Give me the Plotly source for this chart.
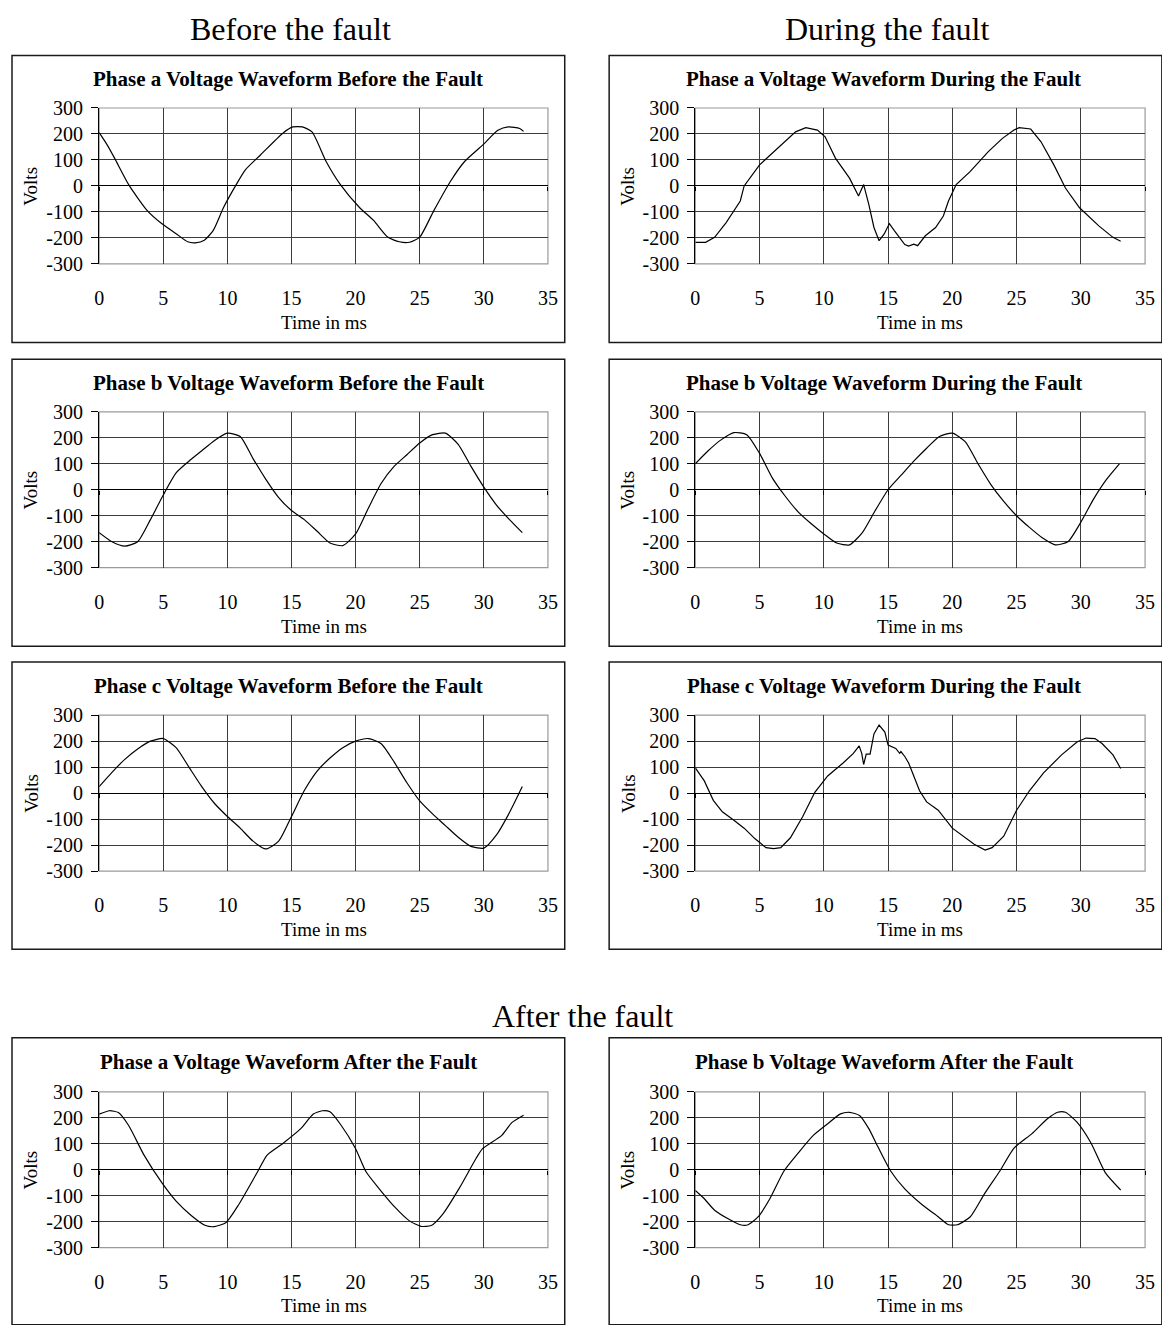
import plotly.graph_objects as go

# The page body has an 8px margin, so the figure is sized to fill the
# 1170x1333 window exactly and every position below is given in window pixels.
WIN_W, WIN_H, BODY = 1170, 1333, 8
W, H = WIN_W - 2 * BODY, WIN_H - 2 * BODY
FONT = "Liberation Serif"

# ---------------- text ----------------
section_titles = ["Before the fault", "During the fault", "After the fault"]
panel_titles = [
    "Phase a Voltage Waveform Before the Fault",
    "Phase a Voltage Waveform During the Fault",
    "Phase b Voltage Waveform Before the Fault",
    "Phase b Voltage Waveform During the Fault",
    "Phase c Voltage Waveform Before the Fault",
    "Phase c Voltage Waveform During the Fault",
    "Phase a Voltage Waveform After the Fault",
    "Phase b Voltage Waveform After the Fault",
]
x_title = "Time in ms"
y_title = "Volts"
x_ticks = [0, 5, 10, 15, 20, 25, 30, 35]
x_grid = [5, 10, 15, 20, 25, 30]
y_ticks = [-300, -200, -100, 0, 100, 200, 300]
y_tick_labels = ["-300", "-200", "-100", "0", "100", "200", "300"]
y_grid = [-200, -100, 100, 200]

# ---------------- data (time in ms, volts) ----------------
t_a_before = [0, 0.6, 1.2, 2.3, 3.75, 4.9, 6.0, 6.9, 7.5, 8.2, 8.9, 9.7, 10.7, 11.4, 12.6,
              14.3, 15.1, 15.85, 16.6, 17.7, 18.8, 20.3, 21.4, 22.5, 23.4, 24.2, 25.0,
              26.1, 27.4, 28.5, 29.9, 31.1, 31.9, 32.8, 33.1]
v_a_before = [205, 160, 107, 5, -95, -146, -184, -215, -219, -209, -171, -83, 6, 62, 120,
              202, 227, 227, 208, 94, 6, -83, -133, -197, -215, -217, -197,
              -95, 18, 94, 157, 214, 227, 221, 210]

t_b_before = [0, 1, 2, 3, 4, 5, 6, 7, 8, 9, 10, 11, 12, 13, 14, 15, 16, 17, 18, 19, 20,
              21, 22, 23, 24, 25, 26, 27, 28, 29, 30, 31, 32, 33]
v_b_before = [-165, -200, -217, -200, -115, -20, 65, 110, 150, 190, 218, 205, 120, 40,
              -30, -80, -115, -160, -205, -215, -170, -70, 25, 90, 135, 180, 212, 218,
              175, 90, 10, -60, -115, -165]

t_c_before = [0, 1, 2, 3, 4, 5, 6, 7, 8, 9, 10, 11, 12, 13, 14, 15, 16, 17, 18, 19, 20,
              21, 22, 23, 24, 25, 26, 27, 28, 29, 30, 31, 32, 33]
v_c_before = [25, 80, 130, 170, 200, 210, 175, 100, 25, -40, -90, -135, -185, -215, -185,
              -90, 10, 85, 135, 175, 200, 210, 190, 120, 40, -30, -80, -125, -170, -205,
              -212, -160, -75, 25]

t_a_during = [0, 0.8, 1.5, 2.4, 3.5, 3.8, 5.0, 6.4, 7.8, 8.6, 9.5, 10.1, 10.9, 12.0, 12.7,
              13.1, 13.5, 13.9, 14.3, 14.7, 15.1, 15.5, 16.3, 16.6, 17.0, 17.3, 17.9,
              18.7, 19.3, 19.7, 20.3, 21.4, 22.8, 23.9, 24.8, 25.2, 26.1, 26.9, 27.9,
              28.8, 29.9, 31.4, 32.5, 33.1]
v_a_during = [-217, -217, -198, -141, -58, 0, 81, 145, 208, 224, 215, 189, 107, 30, -39,
              5, -71, -160, -211, -185, -145, -173, -226, -232, -224, -230, -192,
              -160, -116, -58, 5, 56, 132, 183, 215, 224, 219, 170, 81,
              -8, -84, -154, -198, -213]

t_b_during = [0, 1, 2, 3, 4, 5, 6, 7, 8, 9, 10, 11, 12, 13, 14, 15, 16, 17, 18, 19, 20,
              21, 22, 23, 24, 25, 26, 27, 28, 29, 30, 31, 32, 33]
v_b_during = [100, 150, 192, 220, 212, 140, 45, -25, -85, -130, -170, -205, -212, -165,
              -80, 0, 55, 110, 160, 205, 218, 185, 100, 20, -45, -100, -145, -185, -212,
              -200, -125, -35, 40, 100]

t_c_during = [0, 0.7, 1.4, 2.1, 2.95, 3.8, 4.65, 5.5, 6.1, 6.65, 7.4, 8.35, 9.3, 10.3,
              11.5, 12.3, 12.75, 12.95, 13.1, 13.3, 13.6, 13.9, 14.3, 14.75, 15.0, 15.3,
              15.6, 15.9, 16.0, 16.3, 16.6, 16.9, 17.45, 18.0, 18.9, 20.0, 20.85, 21.7,
              22.55, 23.1, 24.0, 25.0, 26.0, 27.1, 28.5, 29.7, 30.4, 31.1, 31.65, 32.5, 33.1]
v_c_during = [97, 47, -28, -72, -103, -135, -176, -210, -214, -210, -172, -91, 3, 66,
              116, 153, 182, 153, 110, 150, 150, 228, 262, 235, 185, 178,
              172, 153, 160, 141, 116, 78, 9, -34, -66, -135, -166, -197,
              -219, -210, -166, -66, 9, 78, 147, 197, 212, 210, 191, 147, 95]

t_a_after = [0, 0.8, 1.5, 2.3, 3.5, 4.9, 6.0, 7.2, 8.3, 9.0, 9.9, 10.9, 12.3, 13.1, 14.3,
             15.7, 16.7, 17.4, 18.0, 18.8, 20.0, 20.8, 22.0, 23.1, 24.2, 25.1, 25.9,
             26.8, 28.1, 29.4, 29.9, 31.4, 32.2, 33.1]
v_a_after = [214, 227, 220, 170, 56, -51, -121, -177, -215, -219, -203, -133, -13, 56, 100,
             157, 214, 227, 223, 176, 81, -7, -83, -146, -197, -218, -215,
             -171, -70, 44, 81, 132, 182, 210]

t_b_after = [0, 0.7, 1.5, 2.7, 3.5, 4.1, 4.9, 5.8, 6.9, 8.1, 9.2, 10.3, 11.3, 12.0, 12.8,
             13.5, 14.2, 15.2, 16.3, 17.7, 18.9, 19.7, 20.4, 21.4, 22.5, 23.7, 24.8,
             26.2, 27.4, 28.2, 28.8, 29.7, 30.8, 31.9, 33.1]
v_b_after = [-80, -112, -156, -193, -212, -212, -181, -112, -5, 70, 133, 177, 215, 221, 208,
             158, 89, -5, -74, -137, -181, -212, -212, -181, -93, -5, 83,
             139, 196, 221, 221, 183, 102, -11, -78]

panel_t = [t_a_before, t_a_during, t_b_before, t_b_during, t_c_before, t_c_during, t_a_after, t_b_after]
panel_v = [v_a_before, v_a_during, v_b_before, v_b_during, v_c_before, v_c_during, v_a_after, v_b_after]
panel_smooth = [True, False, True, True, True, False, True, True]

# ---------------- geometry (window pixels) ----------------
box_tops = [45, 354, 662, 1044]
box_h = 292
plot_tops = [98.5, 407.5, 716, 1099]
plot_h = 158.5
box_x = [(7, 567), (612, 1172)]
plot_x = [(95.3, 550), (699.3, 1155)]


def px(x):
    return (x - BODY) / W


def py(y):
    return 1 - (y - BODY) / H


fig = go.Figure()
layout = dict(
    width=W, height=H, margin=dict(l=0, r=0, t=0, b=0),
    paper_bgcolor="white", plot_bgcolor="white", showlegend=False,
    font=dict(family=FONT, color="black"),
)
shapes, annotations = [], []
GRID = "#3c3c3c"

for i in range(8):
    row, col = i // 2, i % 2
    n = i + 1
    xa, ya = ("x", "y") if n == 1 else (f"x{n}", f"y{n}")
    xk, yk = ("xaxis", "yaxis") if n == 1 else (f"xaxis{n}", f"yaxis{n}")
    x0, x1 = plot_x[col]
    ytop = plot_tops[row]
    ybot = ytop + plot_h
    dom_x = [px(x0), px(x1)]
    dom_y = [py(ybot), py(ytop)]

    line = dict(color="black", width=1.2)
    if panel_smooth[i]:
        line.update(shape="spline", smoothing=0.6)
    fig.add_trace(go.Scatter(x=panel_t[i], y=panel_v[i], mode="lines", line=line,
                             xaxis=xa, yaxis=ya, hoverinfo="skip"))

    layout[xk] = dict(domain=dom_x, anchor=ya, range=[0, 35], tickvals=x_ticks,
                      showgrid=False, showline=False, ticks="", zeroline=False,
                      minor=dict(tickvals=x_grid, showgrid=True, gridcolor=GRID,
                                 gridwidth=1, ticks=""),
                      tickfont=dict(size=20, family=FONT),
                      ticklabelstandoff=20, fixedrange=True)
    layout[yk] = dict(domain=dom_y, anchor=xa, range=[-300, 300], tickvals=y_ticks,
                      ticktext=y_tick_labels, showgrid=False,
                      minor=dict(tickvals=y_grid, showgrid=True, gridcolor=GRID,
                                 gridwidth=1, ticks=""),
                      showline=True, linecolor="black", linewidth=1.3, ticks="outside",
                      ticklen=7, tickcolor="black", zeroline=True, zerolinecolor="black",
                      zerolinewidth=1.2, tickfont=dict(size=20, family=FONT),
                      ticklabelstandoff=4, fixedrange=True)

    # overlay axis along the 0 V line carrying small tick marks
    m = n + 8
    xo = f"x{m}"
    fig.add_trace(go.Scatter(x=[x_ticks[0], x_ticks[-1]], y=[0, 0], mode="lines",
                             line=dict(width=0), opacity=0, xaxis=xo, yaxis=ya,
                             hoverinfo="skip"))
    layout[f"xaxis{m}"] = dict(overlaying=xa, anchor="free", position=(dom_y[0] + dom_y[1]) / 2,
                               domain=dom_x, range=[0, 35], tickvals=x_ticks,
                               showticklabels=False, ticks="outside", ticklen=4,
                               tickcolor="black", tickwidth=1, showgrid=False,
                               showline=False, zeroline=False, fixedrange=True)

    # grey plot-area frame
    shapes.append(dict(type="rect", xref=f"{xa} domain", yref=f"{ya} domain",
                       x0=0, x1=1, y0=0, y1=1, line=dict(color="#9a9a9a", width=1.2),
                       layer="below"))
    # outer chart box
    bx0, bx1 = box_x[col]
    bt = box_tops[row]
    shapes.append(dict(type="rect", xref="paper", yref="paper",
                       x0=px(bx0), x1=px(bx1), y0=py(bt + box_h), y1=py(bt),
                       line=dict(color="#1a1a1a", width=1.5)))
    # panel title
    annotations.append(dict(text=f"<b>{panel_titles[i]}</b>", xref="paper", yref="paper",
                            x=px((bx0 + bx1) / 2 - (2 if col else 0)), y=py(bt + 24.5),
                            xanchor="center", yanchor="middle", showarrow=False,
                            font=dict(size=21, family=FONT)))
    # axis titles
    annotations.append(dict(text=y_title, xref="paper", yref="paper", x=px(bx0 + 19),
                            y=py((ytop + ybot) / 2), xanchor="center", yanchor="middle",
                            textangle=-90, showarrow=False, font=dict(size=19, family=FONT)))
    annotations.append(dict(text=x_title, xref="paper", yref="paper", x=px((x0 + x1) / 2),
                            y=py(bt + 272), xanchor="center", yanchor="middle",
                            showarrow=False, font=dict(size=19, family=FONT)))

# section headings
for txt, cx, cy in [(section_titles[0], 289, 18), (section_titles[1], 894, 18),
                    (section_titles[2], 585, 1022)]:
    annotations.append(dict(text=txt, xref="paper", yref="paper", x=px(cx), y=py(cy),
                            xanchor="center", yanchor="middle", showarrow=False,
                            font=dict(size=32, family=FONT)))

layout["shapes"] = shapes
layout["annotations"] = annotations
fig.update_layout(**layout)
fig.write_html("out.html")
